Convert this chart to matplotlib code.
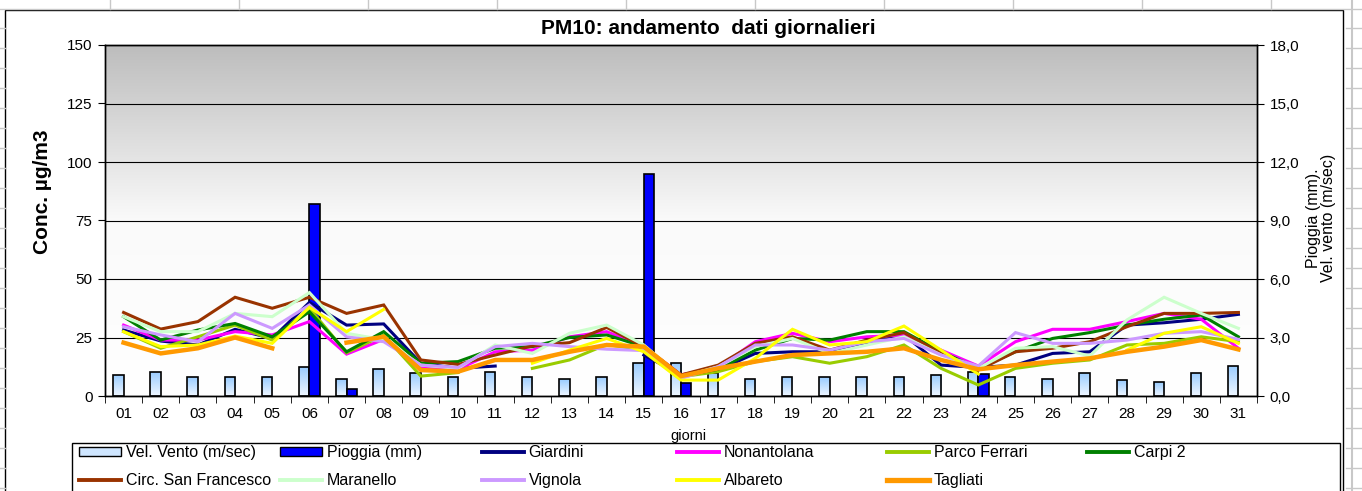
import numpy as np
import matplotlib
matplotlib.use("Agg")
import matplotlib.pyplot as plt
from matplotlib.colors import LinearSegmentedColormap
from matplotlib.patches import Rectangle
from matplotlib.lines import Line2D

plt.rcParams['font.family'] = ['Liberation Sans', 'DejaVu Sans']

nan = np.nan
days = ["%02d" % d for d in range(1, 32)]

# wind speed (m/s) and rain (mm), right axis
wind = [1.1, 1.25, 0.95, 0.95, 0.95, 1.47, 0.87, 1.4, 1.16, 0.95, 1.25, 1.0, 0.87, 1.0, 1.7, 1.7,
        1.16, 0.87, 0.95, 0.95, 1.0, 0.95, 1.1, 1.25, 1.0, 0.87, 1.2, 0.8, 0.7, 1.2, 1.55]
rain = [0, 0, 0, 0, 0, 9.85, 0.35, 0, 0, 0, 0, 0, 0, 0, 11.4, 0.65,
        0, 0, 0, 0, 0, 0, 0, 1.15, 0, 0, 0, 0, 0, 0, 0]

# PM10 daily values (ug/m3), left axis
giardini = [28.2, 23.5, 21.8, 28.5, 24.6, 40.0, 30.3, 30.8, 14.0, 11.8, 12.8, nan, nan, nan, 17.5, 9.0,
            11.1, 18.2, 18.9, 18.9, 22.5, 26.1, 13.2, 12.2, 13.2, 18.2, 18.9, 30.3, 31.3, 32.8, 34.9]
nonantolana = [30.3, 23.9, 23.9, 27.5, 26.1, 31.8, 17.9, 24.2, 12.2, 11.4, 18.9, 19.6, 25.3, 27.5, 21.1, 9.0,
               12.2, 23.2, 26.8, 23.2, 25.3, 26.0, 19.6, 12.8, 23.2, 28.5, 28.5, 31.8, 35.3, 32.8, 20.4]
parco_ferrari = [27.5, 20.4, 25.3, 30.3, 23.9, 37.5, 18.5, 26.0, 8.5, 10.0, nan, 11.8, 15.4, 22.0, 19.6, 8.2,
                 10.4, 14.7, 16.8, 14.0, 16.8, 21.8, 11.8, 4.7, 11.8, 14.0, 15.4, 21.8, 22.5, 25.3, 23.2]
carpi2 = [33.9, 23.9, 28.2, 31.0, 25.3, 36.0, 18.9, 27.5, 14.0, 14.7, 20.4, 21.1, 25.0, 26.1, 21.1, 8.5,
          11.4, 19.6, 24.6, 23.9, 27.5, 27.5, 18.9, 11.8, 18.9, 24.6, 27.1, 30.3, 32.8, 34.6, 25.3]
circ_sf = [35.7, 28.6, 31.8, 42.2, 37.5, 42.2, 35.3, 38.9, 15.4, 13.5, 17.5, 21.4, 22.8, 29.3, 21.1, 9.0,
           13.2, 22.5, 25.3, 19.6, 23.9, 27.1, 18.2, 11.1, 18.9, 20.4, 23.2, 29.6, 35.3, 35.3, 35.7]
maranello = [33.9, 27.5, 27.5, 35.3, 33.9, 44.2, 26.8, 24.0, 13.2, 11.8, 21.8, 18.2, 26.8, 30.3, 21.8, 8.2,
             12.5, 21.1, 24.6, 18.2, 21.8, 25.3, 17.5, 11.8, 20.4, 21.1, 17.1, 32.5, 42.2, 35.3, 28.9]
vignola = [29.6, 26.1, 23.2, 35.3, 28.9, 38.9, 25.3, 23.2, 13.2, 12.2, 21.1, 22.5, 21.1, 20.0, 19.4, 7.5,
           12.5, 21.8, 21.8, 19.6, 23.2, 24.6, 17.5, 12.8, 27.1, 22.5, 22.5, 23.9, 26.8, 27.5, 24.2]
albareto = [27.5, 21.1, 21.8, 25.6, 22.5, 37.9, 27.5, 37.0, nan, nan, nan, 14.0, 19.6, 24.6, 18.9, 6.8,
            6.8, 16.1, 28.5, 21.8, 23.2, 29.9, 19.6, 9.4, nan, nan, nan, 19.6, 26.8, 29.6, 22.5]
tagliati = [22.8, 18.2, 20.4, 25.0, 20.4, nan, 22.8, 25.3, 11.1, 10.4, 15.4, 15.4, 18.9, 21.8, 21.1, 8.5,
            11.8, 14.7, 17.5, 18.2, 18.9, 20.4, 15.4, 11.4, 13.2, 14.7, 16.1, 18.9, 21.1, 23.9, 19.9]

series = [
    ("Giardini", giardini, "#000080", 2.2),
    ("Nonantolana", nonantolana, "#FF00FF", 2.2),
    ("Parco Ferrari", parco_ferrari, "#99CC00", 2.2),
    ("Carpi 2", carpi2, "#008000", 2.2),
    ("Circ. San Francesco", circ_sf, "#993300", 2.2),
    ("Maranello", maranello, "#CCFFCC", 2.2),
    ("Vignola", vignola, "#CC99FF", 2.2),
    ("Albareto", albareto, "#FFFF00", 2.2),
    ("Tagliati", tagliati, "#FF9900", 3.2),
]

W, H = 1362, 491
fig = plt.figure(figsize=(W / 100, H / 100), dpi=100)
fig.patch.set_facecolor("white")

# spreadsheet cells around the chart
for xc in range(110, W, 129):
    fig.add_artist(Line2D([xc / W, xc / W], [1 - 9 / H, 1], color="#c8c8c8", lw=1))
fig.add_artist(Line2D([0, 1], [1 - 9 / H, 1 - 9 / H], color="#c8c8c8", lw=1))
for yc in range(28, H, 20):
    fig.add_artist(Line2D([1346 / W, 1], [1 - yc / H, 1 - yc / H], color="#c8c8c8", lw=1))
    fig.add_artist(Line2D([0, 5 / W], [1 - yc / H, 1 - yc / H], color="#c8c8c8", lw=1))
fig.add_artist(Line2D([1352 / W, 1352 / W], [0, 1], color="#c8c8c8", lw=1.5))
fig.add_artist(Rectangle((5 / W, -0.1), 1338 / W, 1.1 - 10 / H, transform=fig.transFigure,
                         fill=False, edgecolor="black", lw=1))

x = np.arange(1, 32)
ax = fig.add_axes([105 / W, 1 - 396 / H, 1152 / W, 351 / H])
ax2 = ax.twinx()
ax.set_zorder(2)
ax2.set_zorder(1)
ax.patch.set_visible(False)

# background gradient
bg = np.linspace(0, 1, 256).reshape(-1, 1)
bg_cmap = LinearSegmentedColormap.from_list("bg", ["#ffffff", "#fafafa", "#bdbdbd"])
ax2.imshow(bg, extent=[0.5, 31.5, 0, 18], aspect="auto", cmap=bg_cmap, origin="lower", zorder=0)
ax2.set_yticks(np.arange(0, 18.1, 3))
ax2.grid(axis="y", color="black", lw=0.8, zorder=1)
ax2.set_axisbelow(True)

# wind bars with gradient fill
bw = 0.28
bar_cmap = LinearSegmentedColormap.from_list("bar", ["#eef6ff", "#99ccff"])
grad = np.linspace(0, 1, 64).reshape(-1, 1)
wbars = ax2.bar(x - bw / 2, wind, width=bw, color="none", edgecolor="black", lw=1.2, zorder=3)
for b in wbars:
    x0, y0 = b.get_xy()
    im = ax2.imshow(grad, extent=[x0, x0 + b.get_width(), y0, y0 + b.get_height()], aspect="auto",
                    cmap=bar_cmap, origin="lower", zorder=2)
    im.set_clip_path(b)
rx = [xi for xi, r in zip(x, rain) if r > 0]
rv = [r for r in rain if r > 0]
ax2.bar(np.array(rx) + bw / 2, rv, width=bw, color="#0000ff", edgecolor="black", lw=1.2, zorder=3)

for name, vals, col, lw in series:
    ax.plot(x, vals, color=col, lw=lw, solid_joinstyle="miter", label=name)

ax.set_xlim(0.5, 31.5)
ax2.set_xlim(0.5, 31.5)
ax.set_ylim(0, 150)
ax2.set_ylim(0, 18)
ax.set_yticks(np.arange(0, 151, 25))
ax2.set_yticklabels([("%.1f" % v).replace(".", ",") for v in np.arange(0, 18.1, 3)])
ax.set_xticks(x)
ax.set_xticklabels(days)
ax.set_xticks(np.arange(0.5, 32, 1), minor=True)
ax.tick_params(axis="x", which="major", length=0, pad=8, labelsize=11)
ax.tick_params(axis="x", which="minor", length=5, direction="out", color="black")
ax.tick_params(axis="y", length=5, direction="out", labelsize=11, pad=4)
ax2.tick_params(axis="y", length=5, direction="out", labelsize=11, pad=4)
for a in (ax, ax2):
    for s in a.spines.values():
        s.set_color("black")
        s.set_linewidth(1)

fig.text(0.52, 1 - 28 / H, "PM10: andamento  dati giornalieri", ha="center", va="center",
         fontsize=15, fontweight="bold")
fig.text(42 / W, 1 - 192 / H, "Conc. µg/m3", rotation=90, ha="center", va="center",
         fontsize=15, fontweight="bold")
fig.text(1321 / W, 1 - 218 / H, "Pioggia (mm).\nVel. vento (m/sec)", rotation=90, ha="center",
         va="center", fontsize=11.5, linespacing=1.05)
fig.text(688 / W, 1 - 436 / H, "giorni", ha="center", va="center", fontsize=10.5)

# legend, laid out like the spreadsheet: 6 columns, 2 rows
wind_h = Rectangle((0, 0), 1, 1, facecolor="#cfe6ff", edgecolor="black", lw=1)
rain_h = Rectangle((0, 0), 1, 1, facecolor="#0000ff", edgecolor="black", lw=1)
lines = {name: Line2D([], [], color=col, lw=lw + 0.6) for name, _, col, lw in series}
cols = [
    [(wind_h, "Vel. Vento (m/sec)"), (lines["Circ. San Francesco"], "Circ. San Francesco")],
    [(rain_h, "Pioggia (mm)"), (lines["Maranello"], "Maranello")],
    [(lines["Giardini"], "Giardini"), (lines["Vignola"], "Vignola")],
    [(lines["Nonantolana"], "Nonantolana"), (lines["Albareto"], "Albareto")],
    [(lines["Parco Ferrari"], "Parco Ferrari"), (lines["Tagliati"], "Tagliati")],
    [(lines["Carpi 2"], "Carpi 2")],
]
col_x = [76, 277, 479, 674, 884, 1084]
for cx, items in zip(col_x, cols):
    fig.legend([h for h, _ in items], [t for _, t in items], loc="upper left",
               bbox_to_anchor=(cx / W, 1 - 442 / H), frameon=False, fontsize=11.5,
               handlelength=2.6, handleheight=0.45, handletextpad=0.3, labelspacing=0.78,
               borderpad=0.2, borderaxespad=0)
fig.add_artist(Rectangle((72 / W, -0.05), 1268 / W, 0.05 + 1 - 443 / H, transform=fig.transFigure,
                         fill=False, edgecolor="black", lw=1))

fig.savefig("out.png", dpi=100)
